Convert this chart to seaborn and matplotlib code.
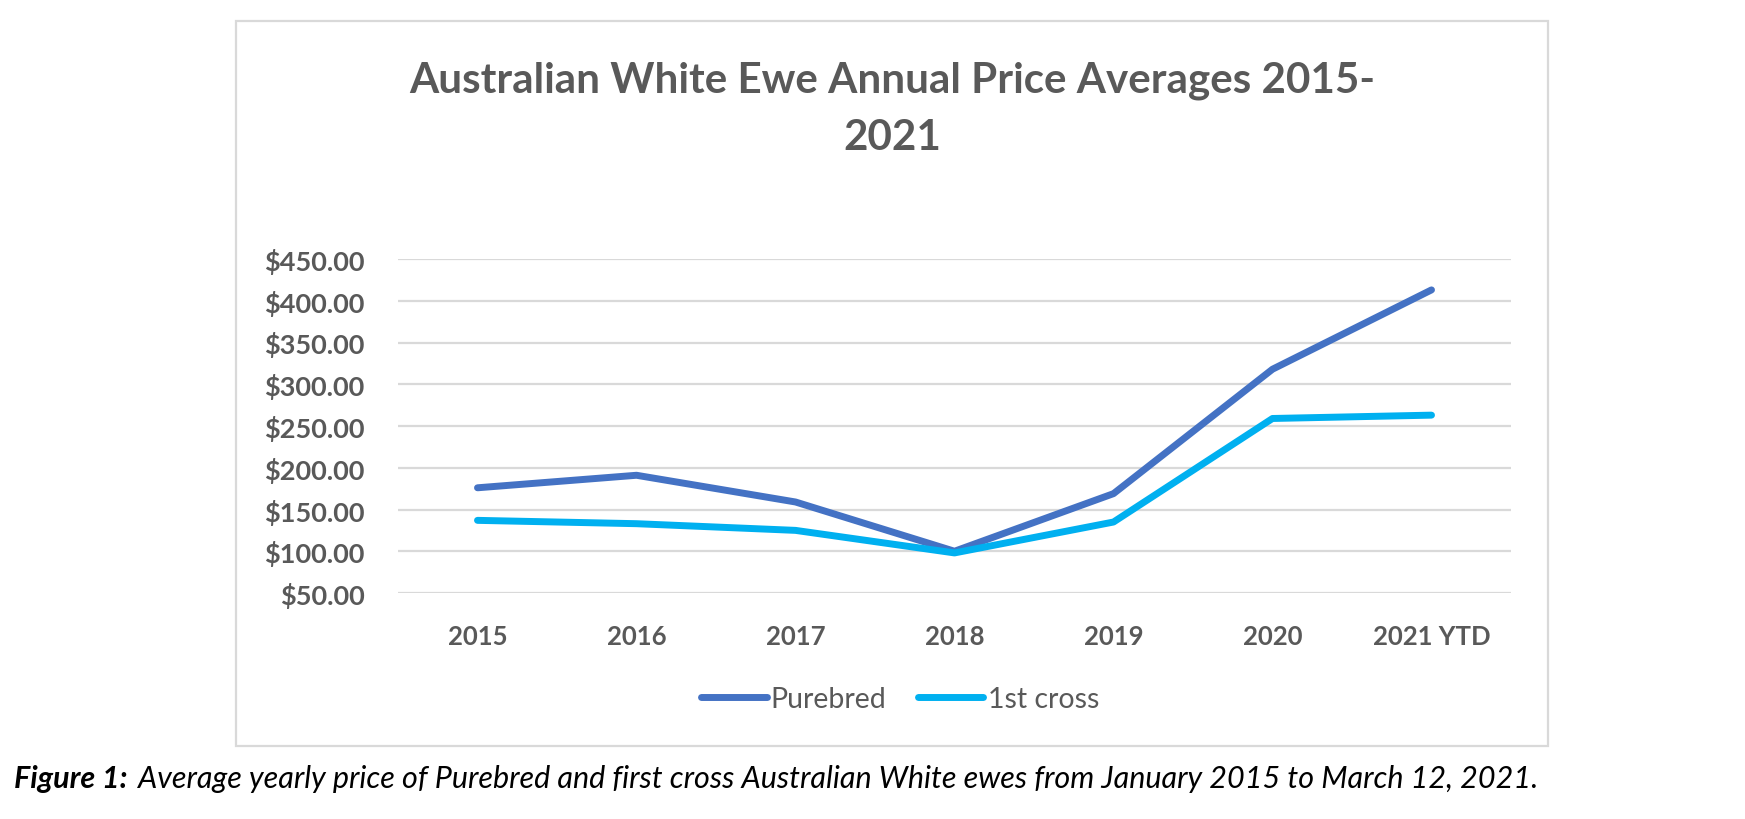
#!/usr/bin/env python3
# -*- coding: utf-8 -*-
"""Australian White ewe annual price averages, Excel-style line chart."""

import pandas as pd
import matplotlib
matplotlib.use('Agg')
import matplotlib.pyplot as plt
from matplotlib.patches import Rectangle
from matplotlib.lines import Line2D
import seaborn as sns

# ---- data ----
categories = ['2015', '2016', '2017', '2018', '2019', '2020', '2021 YTD']
purebred = [176, 191, 159, 100, 169, 318, 413]
first_cross = [137, 133, 125, 98, 135, 259, 263]
series_names = ['Purebred', '1st cross']
y_ticks = [50, 100, 150, 200, 250, 300, 350, 400, 450]

COLORS = {
    'Purebred': '#4472C4',
    '1st cross': '#00B0F0',
}
TEXT_GREY = '#595959'
GRID_GREY = '#D9D9D9'

sns.set_theme(style='white')
plt.rcParams['font.family'] = ['Lato', 'DejaVu Sans']

df = pd.DataFrame({
    'Year': categories * 2,
    'Price': purebred + first_cross,
    'Series': [series_names[0]] * len(categories) + [series_names[1]] * len(categories),
})

W, H = 1745, 820
fig = plt.figure(figsize=(W / 100, H / 100), dpi=100)
fig.patch.set_facecolor('white')

# chart frame
fig.patches.append(Rectangle((236 / W, 1 - 747 / H), (1548 - 236) / W, (747 - 22) / H,
                             transform=fig.transFigure, fill=False,
                             edgecolor=GRID_GREY, lw=1.6, zorder=0))

ax = fig.add_axes([398 / W, 1 - 594 / H, (1511 - 398) / W, (594 - 260) / H])
sns.lineplot(data=df, x='Year', y='Price', hue='Series', palette=COLORS,
             hue_order=series_names, sort=False, lw=5, ax=ax, legend=False,
             solid_capstyle='round', solid_joinstyle='round')

ax.set_xlim(-0.5, len(categories) - 0.5)
ax.set_ylim(y_ticks[0], y_ticks[-1])
ax.set_yticks(y_ticks)
ax.set_yticklabels([f'${v:.2f}' for v in y_ticks])
ax.set_xticks(range(len(categories)))
ax.set_xticklabels(categories)
ax.tick_params(axis='y', length=0, pad=24, labelsize=19.5, labelcolor=TEXT_GREY)
ax.tick_params(axis='x', length=0, pad=22, labelsize=18.5, labelcolor=TEXT_GREY)
for lbl in ax.get_xticklabels() + ax.get_yticklabels():
    lbl.set_fontweight('bold')
ax.set_xlabel('')
ax.set_ylabel('')
ax.grid(axis='y', color=GRID_GREY, lw=1.6)
ax.set_axisbelow(True)
for sp in ax.spines.values():
    sp.set_visible(False)

# title (two lines, like the wrapped Excel title)
fig.text(892 / W, 1 - 92 / H, 'Australian White Ewe Annual Price Averages 2015-',
         ha='center', va='baseline', fontsize=30.3, fontweight='bold', color=TEXT_GREY)
fig.text(892 / W, 1 - 150 / H, '2021',
         ha='center', va='baseline', fontsize=30.3, fontweight='bold', color=TEXT_GREY)

# legend
handles = [Line2D([], [], color=COLORS[n], lw=5, solid_capstyle='round') for n in series_names]
fig.legend(handles, series_names, loc='center', bbox_to_anchor=(900 / W, 1 - 700 / H),
           ncol=2, frameon=False, fontsize=20.5, labelcolor=TEXT_GREY,
           handlelength=2.3, handletextpad=0.15, columnspacing=1.1)

# caption
fig.canvas.draw()
cap1 = fig.text(14 / W, 1 - 788 / H, 'Figure 1:', ha='left', va='baseline',
                fontsize=22, fontweight='bold', fontstyle='italic', color='black')
bb = cap1.get_window_extent(renderer=fig.canvas.get_renderer())
fig.text(bb.x1 / W + 10 / W, 1 - 788 / H,
         'Average yearly price of Purebred and first cross Australian White ewes '
         'from January 2015 to March 12, 2021.',
         ha='left', va='baseline', fontsize=22, fontstyle='italic', color='black')

fig.savefig('out.png', dpi=100, facecolor='white')
